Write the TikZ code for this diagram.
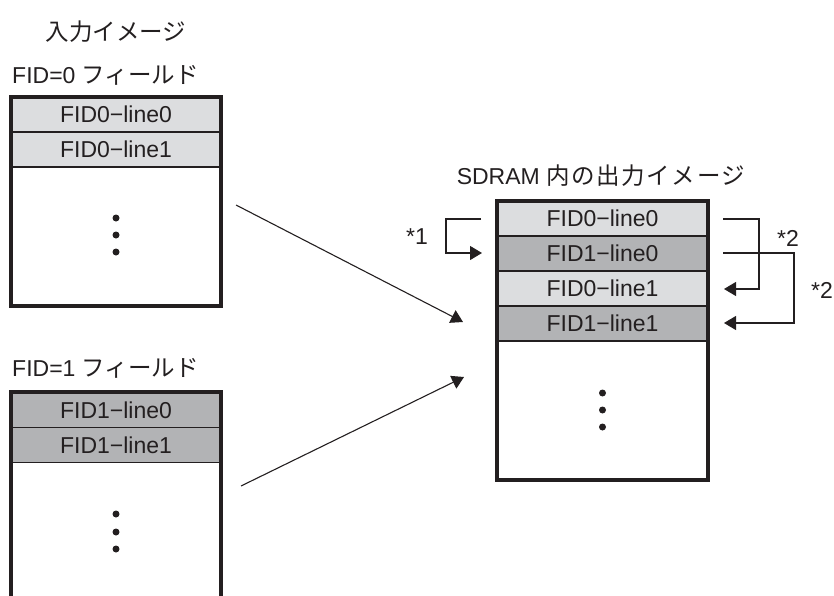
\documentclass[tikz,border=0pt]{standalone}
\usepackage{fontspec}
\setmainfont{Liberation Sans}
\newfontfamily\jpfont{Noto Sans CJK JP}
\usetikzlibrary{arrows.meta}

\definecolor{ink}{HTML}{231F20}
\definecolor{fieldA}{HTML}{DCDDDF}
\definecolor{fieldB}{HTML}{B2B3B5}

\newcommand{\jpt}[1]{{\jpfont\fontsize{23.5}{26}\selectfont #1}}

\begin{document}
\begin{tikzpicture}[x=1pt,y=-1pt,
  row/.style={draw=ink, line width=1.5pt, minimum width=210pt, minimum height=35pt,
              inner sep=0pt, text=ink, font=\fontsize{23}{26}\selectfont},
  rowA/.style={row, fill=fieldA},
  rowB/.style={row, fill=fieldB},
  frame/.style={draw=ink, line width=3.5pt},
  link/.style={draw=ink, line width=1.1pt, -{Triangle[length=12pt,width=14pt]}},
  dot/.style={circle, fill=ink, inner sep=0pt, minimum size=7pt},
  caption/.style={text=ink, inner sep=0pt, font=\fontsize{23}{26}\selectfont},
]
\useasboundingbox (0,0) rectangle (834,596);

% ---- input field FID=0 ----
\node[caption] (inTitle) at (116,32) {\jpt{入力イメージ}};
\node[caption, anchor=west] (f0Title) at (12,75) {FID=0 \jpt{フィールド}};
\node[rowA] (a0) at (116,114.5) {FID0−line0};
\node[rowA] (a1) at (116,149.5) {FID0−line1};
\node[frame, minimum width=210pt, minimum height=209pt, inner sep=0pt] (f0) at (116,201.5) {};
\node[dot] (a0d1) at (116,218) {};
\node[dot] (a0d2) at (116,235) {};
\node[dot] (a0d3) at (116,252) {};

% ---- input field FID=1 (open at the bottom) ----
\node[caption, anchor=west] (f1Title) at (12,368) {FID=1 \jpt{フィールド}};
\node[rowB] (b0) at (116,410) {FID1−line0};
\node[rowB] (b1) at (116,445) {FID1−line1};
\draw[frame] (11,600) |- (221,392) -- (221,600);
\node[dot] (b0d1) at (116,514) {};
\node[dot] (b0d2) at (116,532) {};
\node[dot] (b0d3) at (116,549) {};

% ---- interleaved output in SDRAM ----
\node[caption] (outTitle) at (601,176)
  {SDRAM {\jpfont\fontsize{23.5}{26}\selectfont\addfontfeature{LetterSpace=7}内の出力イメージ}};
\node[rowA] (c0) at (602.5,218.5) {FID0−line0};
\node[rowB] (c1) at (602.5,253.5) {FID1−line0};
\node[rowA] (c2) at (602.5,288.5) {FID0−line1};
\node[rowB] (c3) at (602.5,323.5) {FID1−line1};
\node[frame, minimum width=211pt, minimum height=279pt, inner sep=0pt] (out) at (602.5,340.5) {};
\node[dot] (cd1) at (602.5,393) {};
\node[dot] (cd2) at (602.5,410) {};
\node[dot] (cd3) at (602.5,427) {};

% ---- field transfer arrows ----
\coordinate (f0from) at (236,205);
\coordinate (f0to) at (463,322);
\coordinate (f1from) at (241,486);
\coordinate (f1to) at (464,377);
\draw[link] (f0from) -- (f0to);
\draw[link] (f1from) -- (f1to);

% ---- line ordering notes ----
\coordinate (n1s) at (481,219);
\coordinate (n1e) at (482,253);
\draw[link] (n1s) -- ++(-35,0) |- (n1e);
\node[caption] (n1) at (417,237) {*1};

\coordinate (n2s) at (723,219);
\coordinate (n2e) at (724,289);
\draw[link] (n2s) -- ++(36,0) |- (n2e);
\node[caption] (n2) at (788,238) {*2};

\coordinate (n3s) at (723,253);
\coordinate (n3e) at (724,323);
\draw[link] (n3s) -- ++(71,0) |- (n3e);
\node[caption] (n3) at (822,290) {*2};
\end{tikzpicture}
\end{document}
